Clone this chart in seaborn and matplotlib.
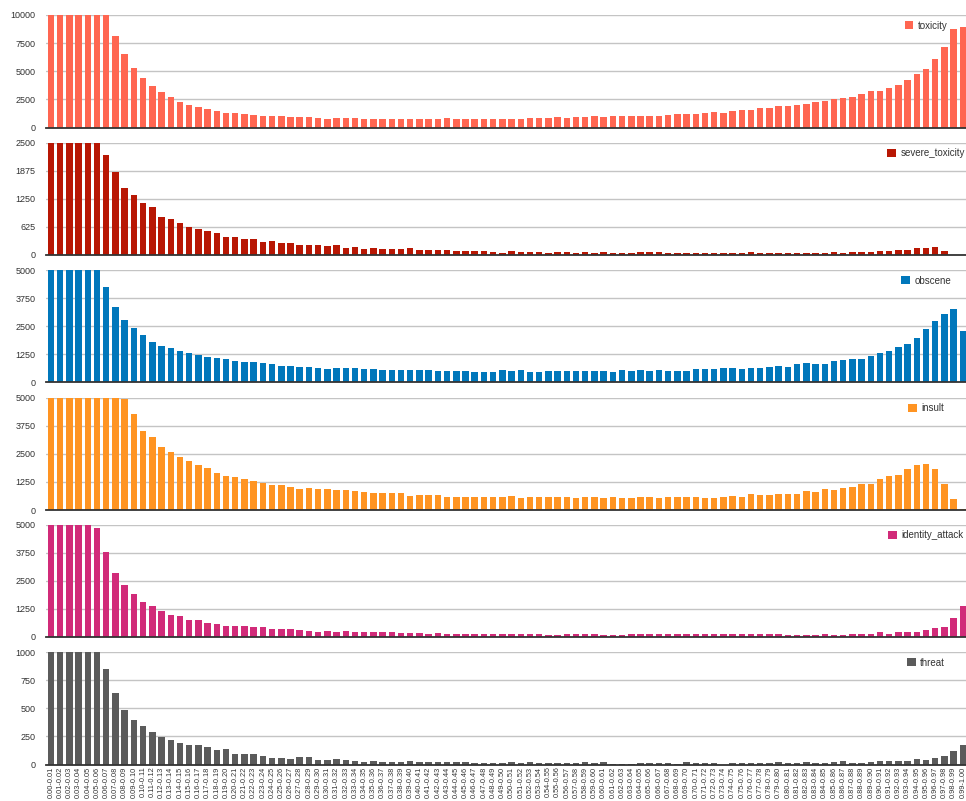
import numpy as np
import pandas as pd
import matplotlib
matplotlib.use("Agg")
import matplotlib.pyplot as plt
import seaborn as sns

# Score bins 0.00-0.01 ... 0.99-1.00
bins = [f"{i / 100:.2f}-{(i + 1) / 100:.2f}" for i in range(100)]

toxicity = [
    10000, 10000, 10000, 10000, 10000, 10000, 10000, 8170, 6570, 5270,
    4440, 3700, 3200, 2690, 2310, 1980, 1835, 1660, 1510, 1330,
    1330, 1180, 1125, 1040, 1040, 1040, 950, 890, 950, 860,
    800, 860, 860, 860, 800, 800, 770, 740, 800, 800,
    770, 740, 800, 860, 800, 800, 770, 800, 800, 800,
    800, 800, 860, 860, 860, 890, 860, 950, 950, 980,
    950, 1040, 1040, 1065, 1065, 1065, 1065, 1125, 1210, 1210,
    1240, 1330, 1390, 1330, 1510, 1600, 1600, 1750, 1750, 1950,
    1950, 2040, 2130, 2310, 2400, 2490, 2600, 2750, 2960, 3260,
    3260, 3520, 3790, 4230, 4770, 5240, 6100, 7130, 8730, 8970,
]

severe_toxicity = [
    2500, 2500, 2500, 2500, 2500, 2500, 2225, 1840, 1500, 1325,
    1145, 1065, 855, 810, 720, 615, 585, 530, 480, 405,
    390, 360, 350, 290, 315, 270, 270, 230, 230, 215,
    210, 215, 165, 185, 140, 155, 140, 140, 135, 150,
    120, 120, 120, 110, 90, 90, 90, 90, 75, 55,
    90, 75, 75, 75, 55, 75, 75, 55, 75, 55,
    75, 55, 55, 55, 75, 75, 75, 55, 55, 55,
    55, 55, 55, 55, 55, 55, 75, 55, 55, 55,
    37, 55, 55, 55, 55, 75, 55, 75, 75, 75,
    90, 90, 112, 112, 165, 150, 180, 90, 0, 0,
]

obscene = [
    5000, 5000, 5000, 5000, 5000, 5000, 4250, 3340, 2770, 2410,
    2090, 1780, 1640, 1540, 1415, 1310, 1235, 1145, 1100, 1040,
    950, 920, 890, 845, 800, 755, 740, 710, 680, 635,
    600, 635, 635, 635, 585, 600, 555, 540, 555, 555,
    540, 540, 525, 525, 525, 495, 465, 480, 480, 540,
    495, 540, 465, 450, 495, 495, 510, 510, 495, 510,
    495, 465, 555, 495, 540, 510, 540, 510, 510, 510,
    585, 585, 585, 635, 635, 615, 665, 665, 680, 725,
    710, 815, 860, 830, 830, 950, 995, 1040, 1055, 1160,
    1310, 1415, 1580, 1715, 1960, 2395, 2740, 3055, 3270, 2290,
]

insult = [
    5000, 5000, 5000, 5000, 5000, 5000, 5000, 5000, 4955, 4265,
    3500, 3245, 2810, 2600, 2345, 2165, 1985, 1845, 1650, 1515,
    1470, 1395, 1290, 1215, 1110, 1110, 1035, 945, 960, 945,
    915, 870, 870, 825, 780, 735, 735, 735, 735, 630,
    660, 645, 645, 600, 600, 600, 570, 585, 600, 570,
    630, 540, 600, 570, 570, 570, 585, 540, 585, 570,
    540, 570, 540, 540, 585, 570, 540, 570, 570, 585,
    600, 540, 555, 600, 630, 600, 705, 675, 675, 720,
    705, 720, 825, 795, 930, 900, 975, 1035, 1140, 1140,
    1395, 1500, 1575, 1815, 2010, 2045, 1830, 1140, 480, 30,
]

identity_attack = [
    5000, 5000, 5000, 5000, 5000, 4865, 3770, 2850, 2300, 1900,
    1545, 1365, 1170, 980, 920, 770, 740, 610, 565, 505,
    505, 475, 445, 445, 355, 340, 340, 295, 265, 225,
    265, 235, 250, 235, 235, 235, 210, 210, 165, 165,
    165, 150, 165, 150, 150, 120, 150, 120, 120, 120,
    150, 150, 120, 120, 105, 105, 120, 120, 120, 120,
    75, 105, 105, 120, 120, 120, 120, 120, 120, 120,
    120, 120, 120, 120, 120, 120, 120, 120, 120, 150,
    105, 105, 105, 105, 120, 105, 105, 120, 120, 150,
    210, 150, 210, 235, 210, 295, 415, 460, 830, 1395,
]

threat = [
    1000, 1000, 1000, 1000, 1000, 1000, 850, 640, 485, 400,
    340, 290, 245, 220, 195, 170, 170, 160, 130, 135,
    92, 89, 89, 80, 56, 59, 53, 68, 71, 36,
    36, 45, 42, 30, 24, 33, 24, 21, 24, 33,
    21, 24, 18, 21, 21, 21, 12, 15, 15, 15,
    18, 15, 18, 9, 9, 15, 9, 15, 18, 15,
    18, 6, 6, 6, 15, 9, 9, 9, 6, 18,
    9, 9, 15, 0, 9, 15, 9, 15, 15, 18,
    15, 9, 18, 9, 9, 24, 27, 9, 15, 18,
    27, 27, 27, 30, 45, 42, 59, 80, 116, 175,
]

series_names = ["toxicity", "severe_toxicity", "obscene", "insult", "identity_attack", "threat"]
series_values = [toxicity, severe_toxicity, obscene, insult, identity_attack, threat]
series_colors = ["#ff6651", "#b81704", "#0077bb", "#ff9422", "#d12b79", "#5b5b5b"]
axis_max = [10000, 2500, 5000, 5000, 5000, 1000]

sns.set_theme(style="white")
plt.rcParams["font.family"] = ["Liberation Sans", "DejaVu Sans"]

W, H = 966, 801
fig = plt.figure(figsize=(W / 100, H / 100), dpi=100)

left_px = 46.4
height_px = 112.5
tops_px = [15, 142.5, 270, 397.5, 524.5, 652]

for k, (name, vals, color, ymax) in enumerate(zip(series_names, series_values, series_colors, axis_max)):
    top = tops_px[k]
    ax = fig.add_axes([left_px / W, 1 - (top + height_px) / H, (W - left_px + 1.5) / W, height_px / H])
    df = pd.DataFrame({"bin": bins, "count": vals})
    sns.barplot(data=df, x="bin", y="count", color=color, saturation=1, width=0.7,
                ax=ax, label=name, edgecolor="none")
    ax.set_xlim(-0.5, 99.5)
    ax.set_ylim(0, ymax)
    ticks = np.linspace(0, ymax, 5)
    ax.set_yticks(ticks)
    ax.set_yticklabels([f"{int(round(t))}" for t in ticks])
    ax.set_xlabel("")
    ax.set_ylabel("")
    ax.set_axisbelow(True)
    ax.yaxis.grid(True, color="#c4c4c4", linewidth=1.0)
    ax.xaxis.grid(False)
    for side in ["top", "right", "left"]:
        ax.spines[side].set_visible(False)
    ax.spines["bottom"].set_color("#333333")
    ax.spines["bottom"].set_linewidth(1.3)
    ax.tick_params(axis="y", length=0, pad=8, labelsize=6.5, labelcolor="#333333")
    ax.tick_params(axis="x", length=0)
    if k == len(series_names) - 1:
        ax.tick_params(axis="x", pad=1.5, labelsize=5.3, labelcolor="#333333", labelrotation=90)
    else:
        ax.set_xticklabels([])
    ax.legend(loc="center", bbox_to_anchor=(0.955, 0.905), frameon=False,
              fontsize=7, handlelength=0.9, handleheight=0.9, handletextpad=0.45,
              borderpad=0, borderaxespad=0, labelcolor="#333333")

fig.savefig("out.png", dpi=100, facecolor="white")
